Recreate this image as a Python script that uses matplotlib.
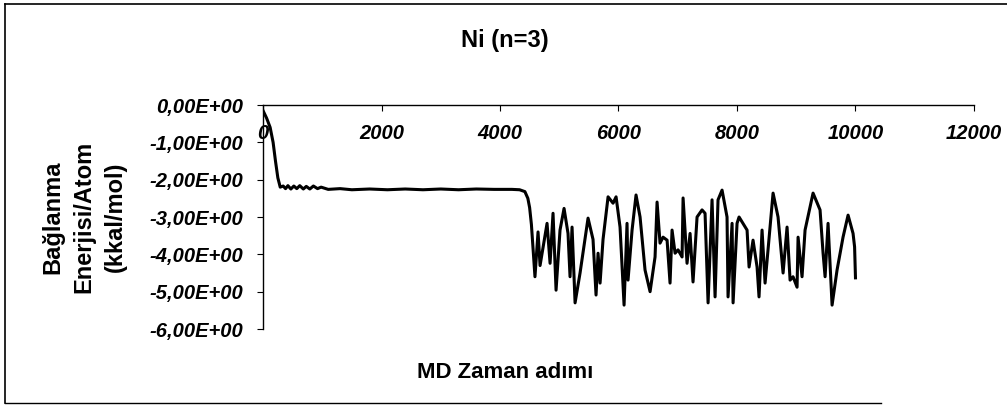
from matplotlib import pyplot as plt
from matplotlib.ticker import FuncFormatter
from matplotlib.lines import Line2D

# MD time step vs binding energy per atom (kcal/mol), Ni n=3
step = [0, 60, 120, 170, 210, 250, 290, 340, 380, 420, 470, 520, 570, 620, 680,
        730, 790, 850, 920, 980, 1100, 1300, 1500, 1800, 2100, 2400, 2700, 3000,
        3300, 3600, 3900, 4200, 4330, 4420, 4470, 4500, 4530, 4560, 4590, 4642,
        4676, 4794, 4845, 4895, 4946, 5013, 5081, 5148, 5182, 5216, 5267, 5351,
        5486, 5570, 5621, 5655, 5689, 5739, 5824, 5908, 5959, 6026, 6094, 6144,
        6161, 6229, 6296, 6364, 6448, 6533, 6617, 6651, 6701, 6752, 6820, 6870,
        6904, 6955, 7005, 7073, 7090, 7157, 7208, 7258, 7326, 7410, 7461, 7512,
        7579, 7630, 7680, 7748, 7832, 7849, 7917, 7934, 8001, 8035, 8170, 8204,
        8271, 8339, 8372, 8423, 8474, 8524, 8609, 8693, 8778, 8845, 8896, 8946,
        9014, 9031, 9098, 9149, 9284, 9402, 9453, 9487, 9537, 9605, 9689, 9790,
        9875, 9959, 9985, 10000]
energy = [-0.15, -0.35, -0.6, -1.0, -1.5, -1.95, -2.2, -2.17, -2.24, -2.16, -2.25,
          -2.17, -2.24, -2.16, -2.25, -2.18, -2.25, -2.17, -2.24, -2.2, -2.26,
          -2.24, -2.27, -2.25, -2.27, -2.25, -2.27, -2.25, -2.27, -2.25, -2.26,
          -2.26, -2.27, -2.32, -2.5, -2.75, -3.2, -3.9, -4.6, -3.4, -4.3, -3.17,
          -4.24, -2.9, -4.96, -3.35, -2.77, -3.44, -4.6, -3.27, -5.3, -4.5, -3.03,
          -3.6, -5.09, -3.97, -4.77, -3.6, -2.46, -2.63, -2.46, -3.27, -5.36,
          -3.17, -4.69, -3.35, -2.41, -3.0, -4.42, -5.0, -4.07, -2.6, -3.7, -3.54,
          -3.62, -4.77, -3.35, -3.97, -3.88, -4.07, -2.49, -4.24, -3.44, -4.74,
          -3.0, -2.81, -2.9, -5.3, -2.54, -5.14, -2.54, -2.28, -3.0, -5.14, -3.17,
          -5.3, -3.17, -3.0, -3.35, -4.34, -3.62, -4.34, -5.14, -3.35, -4.77,
          -3.88, -2.36, -3.0, -4.5, -3.27, -4.69, -4.6, -4.88, -3.54, -4.6, -3.35,
          -2.36, -2.81, -3.97, -4.6, -3.17, -5.36, -4.42, -3.54, -2.95, -3.44,
          -3.8, -4.63]
x_ticks = [0, 2000, 4000, 6000, 8000, 10000, 12000]
y_ticks = [0, -1, -2, -3, -4, -5, -6]

plt.rcParams['font.family'] = ['Liberation Sans', 'DejaVu Sans']

fig = plt.figure(figsize=(10.07, 4.18), dpi=100)
ax = fig.add_axes([0.2612, 0.2129, 0.7060, 0.5359])

ax.plot(step, energy, color='black', linewidth=2.2)

ax.set_xlim(0, 12000)
ax.set_ylim(-6, 0)
ax.set_xticks(x_ticks)
ax.set_yticks(y_ticks)
ax.yaxis.set_major_formatter(FuncFormatter(lambda v, p: f"{v:.2E}".replace('.', ',')))

for s in ['right', 'bottom']:
    ax.spines[s].set_visible(False)
for s in ['left', 'top']:
    ax.spines[s].set_linewidth(1.0)

ax.tick_params(axis='x', top=True, bottom=False, labeltop=True, labelbottom=False,
               direction='in', length=4, pad=-27)
ax.tick_params(axis='y', direction='out', length=4, pad=10)
for lab in ax.get_xticklabels() + ax.get_yticklabels():
    lab.set_fontsize(14.5)
    lab.set_fontweight('bold')
    lab.set_fontstyle('italic')

ax.set_ylabel('Bağlanma\nEnerjisi/Atom\n(kkal/mol)', fontsize=17, fontweight='bold',
              linespacing=1.45, va='center', ha='center')
ax.yaxis.set_label_coords(-0.252, 0.5)
ax.set_xlabel('MD Zaman adımı', fontsize=16, fontweight='bold', va='center')
ax.xaxis.set_label_coords(0.34, -0.196)
ax.set_title('Ni (n=3)', fontsize=17, fontweight='bold', x=0.34, y=1.29, va='center', pad=0)

# chart area border
fig.add_artist(Line2D([0.005, 1.0], [0.99, 0.99], color='black', lw=1.2))
fig.add_artist(Line2D([0.005, 0.005], [0.036, 0.99], color='black', lw=1.2))
fig.add_artist(Line2D([0.005, 0.875], [0.036, 0.036], color='black', lw=1.0))

plt.savefig('out.png', dpi=100)
